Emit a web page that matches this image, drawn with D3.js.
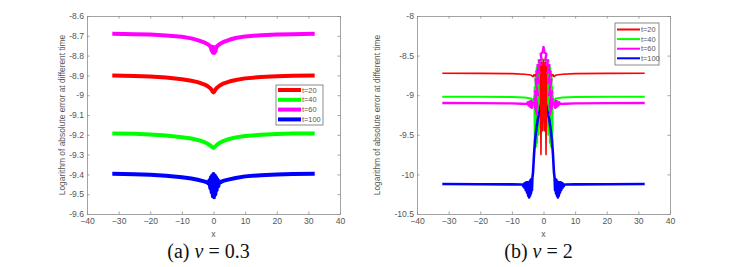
<!DOCTYPE html>
<html>
<head>
<meta charset="utf-8">
<script src="https://cdn.jsdelivr.net/npm/d3@7"></script>
<style>
  body { margin: 0; background: #fff; }
  svg { display: block; }
</style>
</head>
<body>
<div id="wrapper"></div>
<script>
// ---- data ----
const xTicks = [-40, -30, -20, -10, 0, 10, 20, 30, 40];
const yTicksA = [-8.6, -8.7, -8.8, -8.9, -9, -9.1, -9.2, -9.3, -9.4, -9.5, -9.6];
const yTicksB = [-8, -8.5, -9, -9.5, -10, -10.5];
const legendLabels = ["t=20", "t=40", "t=60", "t=100"];
const seriesColors = ["#ff0000", "#00ff00", "#ff00ff", "#0000ff"];

// (a) nu = 0.3
const a_t20 = [[-32,-8.901],[-25,-8.903],[-20,-8.905],[-15,-8.911],[-10,-8.919],[-7,-8.927],[-5,-8.934],[-3,-8.945],[-2,-8.953],[-1,-8.965],[-0.5,-8.975],[-0.25,-8.982],[0,-8.986],[0.25,-8.982],[0.5,-8.974],[1,-8.964],[2,-8.951],[3,-8.942],[5,-8.931],[7,-8.923],[10,-8.915],[15,-8.908],[20,-8.904],[25,-8.902],[32,-8.901]];
const a_t40 = [[-32,-9.193],[-25,-9.195],[-20,-9.198],[-15,-9.204],[-10,-9.212],[-7,-9.219],[-5,-9.226],[-3,-9.236],[-2,-9.244],[-1,-9.254],[-0.5,-9.261],[0,-9.266],[0.5,-9.26],[1,-9.252],[2,-9.24],[3,-9.232],[5,-9.221],[7,-9.213],[10,-9.206],[15,-9.2],[20,-9.196],[25,-9.194],[32,-9.193]];
const a_t60 = [[-32,-8.690],[-25,-8.692],[-20,-8.694],[-15,-8.698],[-10,-8.705],[-7,-8.713],[-5,-8.722],[-3,-8.733],[-2,-8.741],[-1.2,-8.75],[-0.8,-8.76],[-0.6,-8.775],[-0.4,-8.755],[-0.2,-8.785],[0,-8.76],[0.2,-8.787],[0.4,-8.758],[0.6,-8.78],[0.8,-8.762],[1.2,-8.752],[2,-8.741],[3,-8.732],[5,-8.72],[7,-8.711],[10,-8.703],[15,-8.697],[20,-8.694],[25,-8.692],[32,-8.690]];
const a_t100 = [[-32,-9.397],[-25,-9.399],[-20,-9.402],[-15,-9.407],[-10,-9.414],[-7,-9.421],[-5,-9.427],[-3,-9.435],[-2,-9.44],[-1.6,-9.445],[-1.3,-9.43],[-1,-9.47],[-0.8,-9.415],[-0.6,-9.49],[-0.4,-9.405],[-0.2,-9.51],[0,-9.398],[0.2,-9.515],[0.4,-9.405],[0.6,-9.5],[0.8,-9.415],[1,-9.48],[1.2,-9.425],[1.5,-9.46],[1.8,-9.435],[2.2,-9.44],[3,-9.433],[5,-9.425],[7,-9.418],[10,-9.41],[15,-9.404],[20,-9.4],[25,-9.398],[32,-9.397]];

// (b) nu = 2
const b_t20 = [[-32,-8.722],[-20,-8.724],[-10,-8.728],[-6,-8.735],[-4,-8.745],[-3.3,-8.765],[-3,-8.74],[-2.6,-8.755],[-2.2,-8.725],[-1.6,-8.64],[-1,-8.6],[-0.8,-9.75],[-0.55,-8.58],[-0.3,-9.45],[0,-8.56],[0.3,-9.45],[0.55,-8.58],[0.8,-9.75],[1,-8.6],[1.6,-8.64],[2.2,-8.725],[2.6,-8.755],[3,-8.74],[3.3,-8.765],[4,-8.745],[6,-8.735],[10,-8.728],[20,-8.724],[32,-8.722]];
const b_t40 = [[-32,-9.018],[-20,-9.02],[-10,-9.023],[-6,-9.03],[-4,-9.04],[-3.3,-9.065],[-3,-9.04],[-2.9,-9.0],[-2.75,-9.6],[-2.8,-8.9],[-2.4,-9.65],[-2.55,-8.75],[-2,-9.6],[-2.15,-8.65],[-1.5,-9.5],[-1.55,-8.58],[-0.9,-9.4],[-0.9,-8.56],[0,-8.55],[0.9,-8.56],[0.9,-9.4],[1.55,-8.58],[1.5,-9.5],[2.15,-8.65],[2,-9.6],[2.55,-8.75],[2.4,-9.65],[2.8,-8.9],[2.75,-9.6],[2.9,-9.0],[3,-9.04],[3.3,-9.065],[4,-9.04],[6,-9.03],[10,-9.023],[20,-9.02],[32,-9.018]];
const b_t60 = [[-32,-9.098],[-20,-9.1],[-10,-9.103],[-7,-9.108],[-5.3,-9.11],[-5,-9.09],[-4.7,-9.13],[-4.4,-9.08],[-4.1,-9.15],[-3.9,-9.07],[-3.7,-9.16],[-3.5,-9.09],[-3,-9.1],[-2.9,-9.1],[-2,-9.25],[-2.8,-9.05],[-1.9,-9.15],[-2.7,-8.95],[-1.75,-9.0],[-2.5,-8.8],[-1.5,-8.85],[-2.25,-8.7],[-1.25,-8.72],[-1.9,-8.62],[-0.9,-8.62],[-1.5,-8.56],[-0.6,-8.55],[-0.9,-8.48],[-0.3,-8.46],[0,-8.39],[0.3,-8.46],[0.9,-8.48],[0.6,-8.55],[1.5,-8.56],[0.9,-8.62],[1.9,-8.62],[1.25,-8.72],[2.25,-8.7],[1.5,-8.85],[2.5,-8.8],[1.75,-9.0],[2.7,-8.95],[1.9,-9.15],[2.8,-9.05],[2,-9.25],[2.9,-9.1],[3,-9.1],[3.5,-9.09],[3.7,-9.16],[3.9,-9.07],[4.1,-9.15],[4.4,-9.08],[4.7,-9.13],[5,-9.09],[5.3,-9.11],[7,-9.108],[10,-9.103],[20,-9.1],[32,-9.098]];
const b_t100 = [[-32,-10.122],[-20,-10.124],[-10,-10.126],[-7,-10.128],[-6.6,-10.13],[-6.4,-10.15],[-6.2,-10.12],[-6,-10.17],[-5.8,-10.11],[-5.6,-10.2],[-5.4,-10.1],[-5.2,-10.23],[-5,-10.1],[-4.85,-10.27],[-4.7,-10.1],[-4.55,-10.29],[-4.4,-10.09],[-4.25,-10.27],[-4.1,-10.07],[-3.95,-10.24],[-3.8,-10.06],[-3.65,-10.2],[-3.5,-10.04],[-3.3,-9.97],[-3,-9.75],[-2.7,-9.58],[-2.3,-9.44],[-1.8,-9.3],[-1.2,-9.2],[-0.6,-9.08],[0,-8.99],[0.6,-9.08],[1.2,-9.2],[1.8,-9.3],[2.3,-9.44],[2.7,-9.58],[3,-9.75],[3.3,-9.97],[3.5,-10.04],[3.65,-10.2],[3.8,-10.06],[3.95,-10.24],[4.1,-10.07],[4.25,-10.27],[4.4,-10.09],[4.55,-10.29],[4.7,-10.1],[4.85,-10.27],[5,-10.1],[5.2,-10.23],[5.4,-10.1],[5.6,-10.2],[5.8,-10.11],[6,-10.17],[6.2,-10.12],[6.4,-10.15],[6.6,-10.13],[7,-10.128],[10,-10.126],[20,-10.124],[32,-10.122]];

const W = 744, H = 267;

const svg = d3.select("#wrapper")
    .append("svg")
    .attr("width", W)
    .attr("height", H);

const panels = [
    {
        left: 87, right: 340, top: 16, bottom: 214,
        yDomain: [-9.6, -8.6], yTicks: yTicksA,
        series: [a_t20, a_t40, a_t60, a_t100],
        order: [0, 1, 2, 3],
        widths: [4, 4, 4, 4],
        legendWidth: 4,
        legend: {x: 276, y: 85, w: 47, h: 40, x0: 278, x1: 301, dy: 9.8, first: 90},
        yLabelX: 65,
        caption: ["(a) ", "ν", " = 0.3"]
    },
    {
        left: 417, right: 670, top: 16, bottom: 214,
        yDomain: [-10.5, -8], yTicks: yTicksB,
        series: [b_t20, b_t40, b_t60, b_t100],
        order: [1, 3, 0, 2],
        widths: [1.6, 2, 2.4, 2.6],
        legendWidth: 2,
        legend: {x: 615, y: 23, w: 44, h: 42, x0: 617, x1: 640, dy: 9.6, first: 29.5},
        yLabelX: 380,
        caption: ["(b) ", "ν", " = 2"]
    }
];

const axisColor = "#8c8c8c";
const textColor = "#555";

panels.forEach(p => {
    const x = d3.scaleLinear().domain([-40, 40]).range([p.left, p.right]);
    const y = d3.scaleLinear().domain(p.yDomain).range([p.bottom, p.top]);
    const g = svg.append("g");

    const line = d3.line()
        .x(d => x(d[0]))
        .y(d => y(d[1]));

    p.order.forEach(i => {
        g.append("path")
            .datum(p.series[i])
            .attr("d", line)
            .attr("fill", "none")
            .attr("stroke", seriesColors[i])
            .attr("stroke-width", p.widths[i])
            .attr("stroke-linejoin", "round");
    });

    // axes, MATLAB style box with inner ticks on all sides
    const styleAxis = sel => {
        sel.select(".domain").attr("stroke", axisColor).attr("stroke-width", 0.8);
        sel.selectAll(".tick line").attr("stroke", axisColor).attr("stroke-width", 0.8);
        sel.selectAll(".tick text")
            .attr("fill", textColor)
            .style("font-family", "'Liberation Sans', Arial, sans-serif")
            .style("font-size", "8.6px");
    };

    g.append("g")
        .attr("transform", `translate(0,${p.bottom})`)
        .call(d3.axisBottom(x).tickValues(xTicks).tickSizeInner(-2.5).tickSizeOuter(0).tickPadding(4))
        .call(styleAxis);
    g.append("g")
        .attr("transform", `translate(0,${p.top})`)
        .call(d3.axisTop(x).tickValues(xTicks).tickSizeInner(-2.5).tickSizeOuter(0).tickFormat(""))
        .call(styleAxis);
    g.append("g")
        .attr("transform", `translate(${p.left},0)`)
        .call(d3.axisLeft(y).tickValues(p.yTicks).tickSizeInner(-2.5).tickSizeOuter(0).tickPadding(3)
            .tickFormat(d => String(d)))
        .call(styleAxis);
    g.append("g")
        .attr("transform", `translate(${p.right},0)`)
        .call(d3.axisRight(y).tickValues(p.yTicks).tickSizeInner(-2.5).tickSizeOuter(0).tickFormat(""))
        .call(styleAxis);

    // axis titles
    g.append("text")
        .attr("x", (p.left + p.right) / 2)
        .attr("y", p.bottom + 23)
        .attr("text-anchor", "middle")
        .attr("fill", textColor)
        .style("font-family", "'Liberation Sans', Arial, sans-serif")
        .style("font-size", "8.6px")
        .text("x");

    g.append("text")
        .attr("transform", `translate(${p.yLabelX},${(p.top + p.bottom) / 2}) rotate(-90)`)
        .attr("text-anchor", "middle")
        .attr("fill", textColor)
        .style("font-family", "'Liberation Sans', Arial, sans-serif")
        .style("font-size", "8.4px")
        .text("Logarithm of absolute error at different time");

    // legend
    const L = p.legend;
    g.append("rect")
        .attr("x", L.x).attr("y", L.y)
        .attr("width", L.w).attr("height", L.h)
        .attr("fill", "#fff")
        .attr("stroke", "#6e6e6e")
        .attr("stroke-width", 0.8);
    legendLabels.forEach((lab, i) => {
        const yy = L.first + i * L.dy;
        g.append("line")
            .attr("x1", L.x0).attr("x2", L.x1)
            .attr("y1", yy).attr("y2", yy)
            .attr("stroke", seriesColors[i])
            .attr("stroke-width", p.legendWidth);
        g.append("text")
            .attr("x", L.x1 + 1)
            .attr("y", yy + 2.6)
            .attr("fill", textColor)
            .style("font-family", "'Liberation Sans', Arial, sans-serif")
            .style("font-size", "7.4px")
            .text(lab);
    });

    // caption under the panel
    const cap = g.append("text")
        .attr("x", (p.left + p.right) / 2 - 5)
        .attr("y", 258)
        .attr("text-anchor", "middle")
        .attr("fill", "#111")
        .style("font-family", "'Liberation Serif', 'Times New Roman', serif")
        .style("font-size", "20px");
    cap.append("tspan").text(p.caption[0]);
    cap.append("tspan").style("font-style", "italic").text(p.caption[1]);
    cap.append("tspan").text(p.caption[2]);
});
</script>
</body>
</html>
